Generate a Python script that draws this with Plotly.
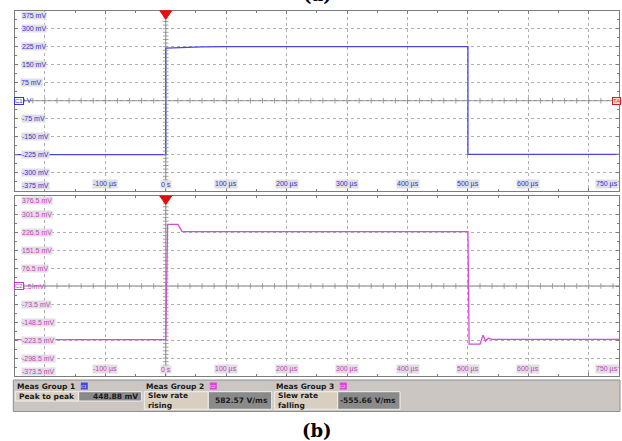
import plotly.graph_objects as go

W, H = 622, 441

# ---------------- data ----------------
c1_time_us = [-250, 0, 0, 20, 60, 100, 500, 500, 750]
c1_mv = [-225, -225, 219, 221, 224, 225, 225, -224, -224]

c2_time_us = [-250, 0, 3, 20, 27, 500, 502, 520, 525, 529, 534, 540, 750]
c2_mv = [-222, -222, 258, 258, 228, 228, -241, -241, -203, -228, -216, -221, -221]

x_tick_vals = [-100, 0, 100, 200, 300, 400, 500, 600, 750]
x_tick_text = ["-100 µs", "0 s", "100 µs", "200 µs", "300 µs", "400 µs", "500 µs", "600 µs", "750 µs"]

c1_tick_vals = [375, 300, 225, 150, 75, 0, -75, -150, -225, -300, -375]
c1_tick_text = ["375 mV", "300 mV", "225 mV", "150 mV", "75 mV", "0 V", "-75 mV", "-150 mV",
                "-225 mV", "-300 mV", "-375 mV"]

c2_tick_vals = [376.5, 301.5, 226.5, 151.5, 76.5, 1.5, -73.5, -148.5, -223.5, -298.5, -373.5]
c2_tick_text = ["376.5 mV", "301.5 mV", "226.5 mV", "151.5 mV", "76.5 mV", "1.5 mV", "-73.5 mV",
                "-148.5 mV", "-223.5 mV", "-298.5 mV", "-373.5 mV"]

meas_groups = ["Meas Group 1", "Meas Group 2", "Meas Group 3"]
meas_badges = ["C1", "C2", "C2"]
meas_names = ["Peak to peak", "Slew rate<br>rising", "Slew rate<br>falling"]
meas_values = ["448.88 mV", "582.57 V/ms", "-555.66 V/ms"]

# ---------------- styling / geometry ----------------
BLUE = "#4646e6"
MAG = "#d84ad8"
BLUE_TXT = "#3434d8"
MAG_TXT = "#cc3acc"
GRID = "#b0b0b0"
AXC = "#7c7c7c"
LBL_BG = "#e0e0e0"


def px(x):
    return x / W


def py(y):
    return 1 - y / H


XL, XR = 14.7, 619.0
P1_TOP, P1_BOT = 10.7, 190.7
P2_TOP, P2_BOT = 196.0, 376.0

fig = go.Figure()

fig.add_trace(go.Scatter(x=c1_time_us, y=c1_mv, mode="lines", line=dict(color=BLUE, width=1.3),
                         xaxis="x", yaxis="y", hoverinfo="skip", showlegend=False))
fig.add_trace(go.Scatter(x=c2_time_us, y=c2_mv, mode="lines", line=dict(color=MAG, width=1.3),
                         xaxis="x2", yaxis="y2", hoverinfo="skip", showlegend=False))

# center-line tick marks (decoration)
xt = list(range(-240, 750, 20))
for xa, ya, yc in [("x", "y", 0.0), ("x2", "y2", 1.5)]:
    fig.add_trace(go.Scatter(x=xt, y=[yc] * len(xt), mode="markers", xaxis=xa, yaxis=ya,
                             marker=dict(symbol="line-ns", size=4, line=dict(color="#8c8c8c", width=0.8)),
                             hoverinfo="skip", showlegend=False))
    yt = [yc + 15 * k for k in range(-24, 25) if k != 0]
    fig.add_trace(go.Scatter(x=[0] * len(yt), y=yt, mode="markers", xaxis=xa, yaxis=ya,
                             marker=dict(symbol="line-ew", size=4, line=dict(color="#8c8c8c", width=0.8)),
                             hoverinfo="skip", showlegend=False))

xaxis_common = dict(range=[-250, 750], tick0=-200, dtick=100, showgrid=True, gridcolor=GRID,
                    griddash="dot", gridwidth=1, zeroline=False, showticklabels=False,
                    ticks="inside", ticklen=3, tickcolor=AXC, showline=True, linecolor=AXC,
                    linewidth=1, mirror="ticks",
                    minor=dict(ticks="inside", ticklen=2, tickcolor=AXC, dtick=50, tick0=-250,
                               showgrid=False),
                    domain=[px(XL), px(XR)])
yaxis_common = dict(dtick=75, showgrid=True, gridcolor=GRID, griddash="dot", gridwidth=1,
                    zeroline=False, showticklabels=False, ticks="inside", ticklen=3,
                    tickcolor=AXC, showline=True, linecolor=AXC, linewidth=1, mirror="ticks")

fig.update_layout(
    width=W, height=H, margin=dict(l=0, r=0, t=0, b=0),
    paper_bgcolor="white", plot_bgcolor="white", showlegend=False,
    xaxis=dict(**xaxis_common, anchor="y"),
    xaxis2=dict(**xaxis_common, anchor="y2"),
    yaxis=dict(**yaxis_common, range=[-375, 375], tick0=0, anchor="x",
               minor=dict(ticks="inside", ticklen=2, tickcolor=AXC, dtick=37.5, tick0=0,
                          showgrid=False),
               domain=[py(P1_BOT), py(P1_TOP)]),
    yaxis2=dict(**yaxis_common, range=[-373.5, 376.5], tick0=1.5, anchor="x2",
                minor=dict(ticks="inside", ticklen=2, tickcolor=AXC, dtick=37.5, tick0=1.5,
                           showgrid=False),
                domain=[py(P2_BOT), py(P2_TOP)]),
)

shapes = []
ann = []

# center lines
for xa, ya, yc in [("x", "y", 0.0), ("x2", "y2", 1.5)]:
    shapes.append(dict(type="line", xref=xa + " domain", yref=ya, x0=0, x1=1, y0=yc, y1=yc,
                       line=dict(color=AXC, width=1), layer="below"))
    shapes.append(dict(type="line", xref=xa, yref=ya + " domain", x0=0, x1=0, y0=0, y1=1,
                       line=dict(color=AXC, width=1), layer="below"))
    # trigger triangle
    shapes.append(dict(type="path", xref=xa, yref=ya + " domain", xsizemode="pixel",
                       ysizemode="pixel", xanchor=0, yanchor=1,
                       path="M-6,0 L6,0 L0,-8.5 Z", fillcolor="#e01010",
                       line=dict(color="#e01010", width=1)))

# y labels
for vals, texts, ya, col in [(c1_tick_vals, c1_tick_text, "y", BLUE_TXT),
                             (c2_tick_vals, c2_tick_text, "y2", MAG_TXT)]:
    n = len(vals)
    for i, (v, t) in enumerate(zip(vals, texts)):
        shift = 0
        if i == 0:
            shift = -4.5
        elif i == n - 1:
            shift = 4.8
        center = (i == n // 2)
        ann.append(dict(xref="paper", x=px(20.5), xanchor="left", yref=ya, y=v, yanchor="middle",
                        yshift=shift, text=t, showarrow=False,
                        font=dict(family="Arial", size=7, color=col),
                        bgcolor="rgba(0,0,0,0)" if center else LBL_BG, borderpad=0))

# x labels
for xa, ya, col in [("x", "y", BLUE_TXT), ("x2", "y2", MAG_TXT)]:
    for v, t in zip(x_tick_vals, x_tick_text):
        ann.append(dict(xref=xa, x=v, xanchor="right" if v == 750 else "center",
                        yref=ya + " domain", y=0, yanchor="bottom", yshift=2,
                        text=t, showarrow=False, font=dict(family="Arial", size=7, color=col),
                        bgcolor=LBL_BG, borderpad=0))

# channel markers
for ya, yc, t, col in [("y", 0.0, "C1", BLUE_TXT), ("y2", 1.5, "C2", MAG_TXT)]:
    ann.append(dict(xref="paper", x=px(14), xanchor="left", yref=ya, y=yc, yanchor="middle",
                    text=t, showarrow=False, font=dict(family="Arial", size=6, color=col),
                    bgcolor="white", bordercolor=col, borderwidth=1, borderpad=0))
ann.append(dict(xref="paper", x=px(621), xanchor="right", yref="y", y=0, yanchor="middle",
                text="TA", showarrow=False, font=dict(family="Arial", size=6, color="#d02020"),
                bgcolor="#fbe4e4", bordercolor="#d02020", borderwidth=1, borderpad=0))

# measurement panel
shapes.append(dict(type="rect", xref="paper", yref="paper", x0=px(13.3), x1=px(620),
                   y0=py(411.5), y1=py(380), fillcolor="#cbc6c2",
                   line=dict(color="#8e8e8e", width=1), layer="above"))
grp_x = [15.3, 144.3, 274.3]
lbl_w = [63.4, 64.0, 63.4]
val_w = [63.0, 63.4, 62.3]
box_bot = [401.0, 409.3, 409.3]
badge_col = [BLUE, "#e040e0", "#e040e0"]
for i in range(3):
    x0 = grp_x[i]
    x1 = x0 + lbl_w[i]
    x2 = x1 + val_w[i]
    shapes.append(dict(type="rect", xref="paper", yref="paper", x0=px(x0), x1=px(x1),
                       y0=py(box_bot[i]), y1=py(391.7), fillcolor="#d8cfc0",
                       line=dict(color="#f2f2f2", width=1), layer="above"))
    shapes.append(dict(type="rect", xref="paper", yref="paper", x0=px(x1), x1=px(x2),
                       y0=py(box_bot[i]), y1=py(391.7), fillcolor="#8a8a8a",
                       line=dict(color="#f2f2f2", width=1), layer="above"))
    bx = x0 + 65.5
    shapes.append(dict(type="rect", xref="paper", yref="paper", x0=px(bx), x1=px(bx + 7),
                       y0=py(389.5), y1=py(382.5), fillcolor=badge_col[i],
                       line=dict(width=0), layer="above"))
    ann.append(dict(xref="paper", x=px(bx + 3.5), xanchor="center", yref="paper", y=py(386),
                    yanchor="middle", text=meas_badges[i], showarrow=False,
                    font=dict(family="Arial", size=4, color="white")))
    ann.append(dict(xref="paper", x=px(x0 - 0.3), xanchor="left", yref="paper", y=py(386),
                    yanchor="middle", text="<b>" + meas_groups[i] + "</b>", showarrow=False,
                    font=dict(family="DejaVu Sans", size=7.5, color="#1a1a1a")))
    ann.append(dict(xref="paper", x=px(x0 + 1.5), xanchor="left", yref="paper",
                    y=py((391.7 + box_bot[i]) / 2), yanchor="middle", align="left",
                    text="<b>" + meas_names[i] + "</b>", showarrow=False,
                    font=dict(family="DejaVu Sans", size=7.5, color="#1a1a1a")))
    ann.append(dict(xref="paper", x=px(x2 - 2), xanchor="right", yref="paper",
                    y=py((391.7 + box_bot[i]) / 2), yanchor="middle",
                    text="<b>" + meas_values[i] + "</b>", showarrow=False,
                    font=dict(family="DejaVu Sans", size=7.5, color="#1a1a1a")))

# captions
ann.append(dict(xref="paper", x=px(317.5), xanchor="center", yref="paper", y=py(430.5),
                yanchor="middle", text="<b>(b)</b>", showarrow=False,
                font=dict(family="DejaVu Serif", size=18, color="black")))
ann.append(dict(xref="paper", x=px(317.5), xanchor="center", yref="paper", y=py(-5),
                yanchor="middle", text="<b>(a)</b>", showarrow=False,
                font=dict(family="DejaVu Serif", size=18, color="black")))

fig.update_layout(shapes=shapes, annotations=ann)
fig.write_html("out.html", config={"displayModeBar": False},
               post_script="document.body.style.margin='0';document.body.style.overflow='hidden';")
